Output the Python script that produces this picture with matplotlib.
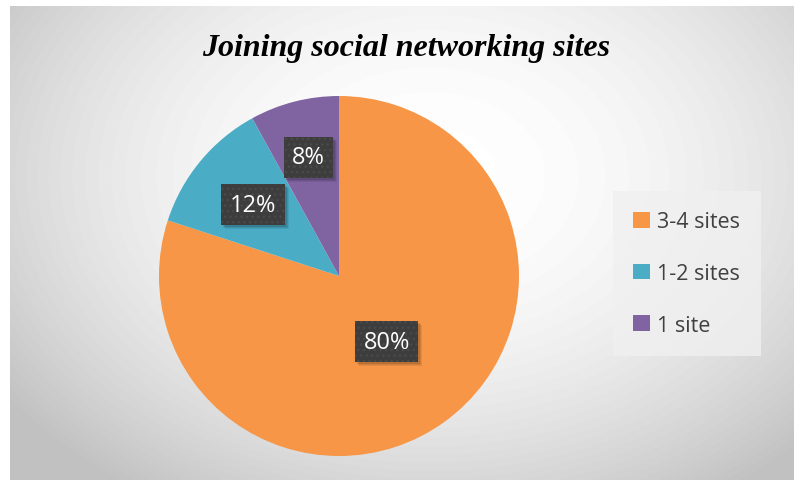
import numpy as np
import matplotlib
matplotlib.use("Agg")
import matplotlib.pyplot as plt
from matplotlib.patches import Patch, Rectangle

# share of respondents by number of social networking sites joined
categories = ["3-4 sites", "1-2 sites", "1 site"]
shares = [80, 12, 8]
colors = ["#F79646", "#4BACC6", "#8064A2"]

W, H = 794, 481
fig = plt.figure(figsize=(W / 100, H / 100), dpi=100)
fig.patch.set_facecolor("white")

# chart area with a soft radial gradient background
bg = fig.add_axes([10 / W, 0, 1 - 10 / W, 1 - 7 / H])
yy, xx = np.mgrid[0:474, 0:784]
cx, cy = 420, 170
d2 = ((xx - cx) / 520) ** 2 + ((yy - cy) / 380) ** 2
shade = 1.0 - 0.24 * np.clip(d2, 0, 1)
bg.imshow(shade, cmap="gray", vmin=0, vmax=1, aspect="auto", extent=[0, 1, 0, 1], origin="upper")
bg.set_axis_off()

fig.text(0.512, 1 - 49 / H, "Joining social networking sites", ha="center", va="center",
         fontsize=23, fontweight="bold", fontstyle="italic", family="Liberation Serif",
         color="black")

# pie
r = 180
ax = fig.add_axes([(339 - r) / W, (H - 277 - r) / H, 2 * r / W, 2 * r / H])
wedges, _ = ax.pie(shares, colors=colors, startangle=90, counterclock=False,
                   wedgeprops=dict(linewidth=0))
ax.set_xlim(-1, 1)
ax.set_ylim(-1, 1)
ax.set_aspect("equal")
ax.set_axis_off()

# data labels in dark boxes
label_dist = [0.45, 0.62, 0.68]
labels = []
for w, val, dist in zip(wedges, shares, label_dist):
    ang = np.deg2rad((w.theta1 + w.theta2) / 2)
    t = ax.text(dist * np.cos(ang), dist * np.sin(ang), f"{val}%", ha="center", va="center",
                fontsize=17, color="white", family="Open Sans", zorder=5,
                bbox=dict(boxstyle="square,pad=0.36", facecolor="#3d3d3d",
                          edgecolor="#4a4a4a", linewidth=0, hatch="..."))
    labels.append(t)

# soft drop shadow behind each label box
fig.canvas.draw()
for t in labels:
    bb = t.get_bbox_patch().get_window_extent()
    for k, a in [(4, 0.07), (3, 0.09), (2, 0.11)]:
        ax.add_patch(Rectangle(((bb.x0 + k) / W, (bb.y0 - k) / H), bb.width / W, bb.height / H,
                               transform=fig.transFigure, facecolor=(0, 0, 0, a),
                               edgecolor="none", zorder=4))

handles = [Patch(facecolor=c, edgecolor="none") for c in colors]
leg = fig.legend(handles, categories, loc="upper left",
                 bbox_to_anchor=(613 / W, 1 - 192 / H),
                 labelspacing=1.42, handlelength=0.75, handleheight=0.75,
                 handletextpad=0.35, borderpad=0.95, borderaxespad=0,
                 frameon=True, fancybox=False, prop=dict(family="Open Sans", size=15.5))
leg.get_frame().set_facecolor((0.94, 0.94, 0.94, 0.85))
leg.get_frame().set_edgecolor("none")
for t in leg.get_texts():
    t.set_color("#404040")

fig.savefig("out.png", dpi=100)
